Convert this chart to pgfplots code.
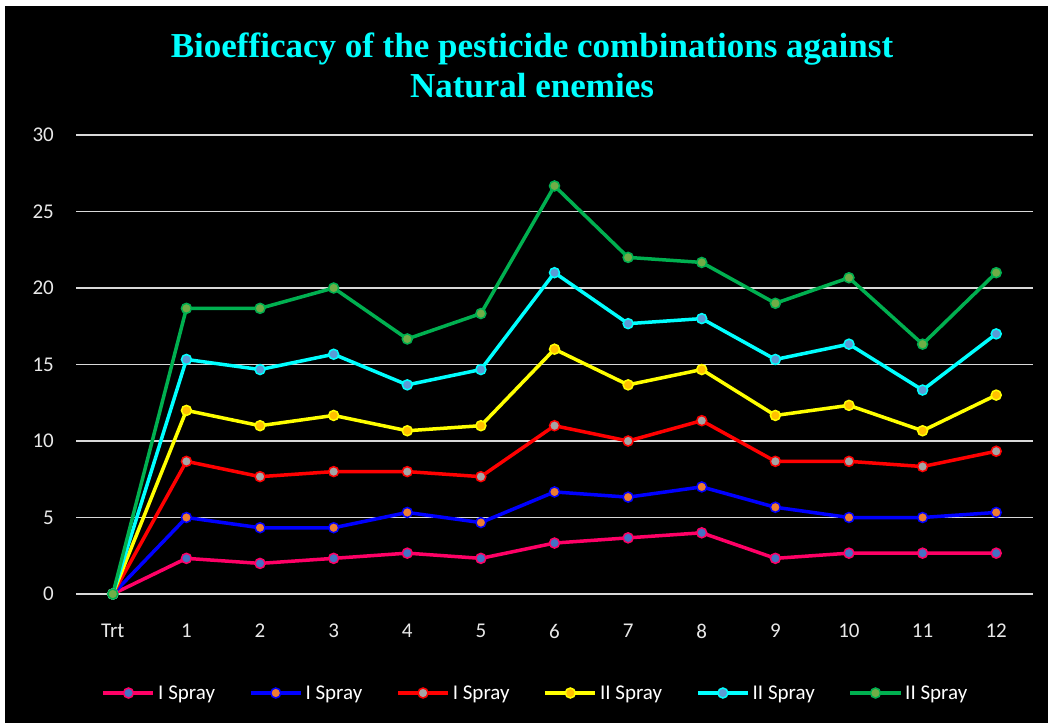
\documentclass[border=0pt]{standalone}
\usepackage{fontspec}
\setmainfont{Carlito}
\newfontfamily\titlefont{Liberation Serif}
\usepackage{pgfplots}
\pgfplotsset{compat=1.18}
\definecolor{cpink}{HTML}{FF0066}
\definecolor{cblue}{HTML}{0000FF}
\definecolor{cred}{HTML}{FF0000}
\definecolor{cyel}{HTML}{FFFF00}
\definecolor{ccyan}{HTML}{00FFFF}
\definecolor{cgreen}{HTML}{00B050}
\definecolor{fpink}{HTML}{4472C4}
\definecolor{fblue}{HTML}{ED7D31}
\definecolor{fred}{HTML}{A5A5A5}
\definecolor{fyel}{HTML}{FFC000}
\definecolor{fcyan}{HTML}{5B9BD5}
\definecolor{fgreen}{HTML}{70AD47}
\definecolor{gridgray}{HTML}{D9D9D9}
\definecolor{labgray}{HTML}{E8E8E8}
\begin{document}
\begin{tikzpicture}
\fill[white] (0,0) rectangle (1048pt,723pt);
\fill[black] (5pt,0) rectangle (1048pt,717pt);
\node[text=ccyan, font=\titlefont\bfseries\fontsize{35}{40}\selectfont, align=center] at (532pt,658pt) {Bioefficacy of the pesticide combinations against\\Natural enemies};
\begin{axis}[
  at={(76pt,129pt)}, anchor=south west,
  scale only axis, width=957pt, height=459pt,
  xmin=-0.5, xmax=12.5, ymin=0, ymax=30,
  ytick={0,5,...,30},
  xtick={0,...,12},
  xticklabels={Trt,1,2,3,4,5,6,7,8,9,10,11,12},
  axis line style={draw=none},
  tick style={draw=none},
  ymajorgrids,
  grid style={color=gridgray, line width=1.5pt},
  clip=false,
  /pgf/number format/assume math mode=true,
  ticklabel style={font=\fontsize{21}{25}\selectfont, text=labgray},
  yticklabel style={inner sep=0pt, xshift=-22pt},
  xticklabel style={inner sep=0pt, yshift=-30pt},
  legend columns=6,
  legend style={at={(0.4807,-0.2157)}, anchor=center, draw=none, fill=none,
    text=white, font=\fontsize{21}{25}\selectfont,
    /tikz/every even column/.append style={column sep=31pt},
    nodes={inner sep=3pt}},
  legend image code/.code={\draw[mark repeat=2,mark phase=2,#1] plot coordinates {(0pt,0pt) (25pt,0pt) (50pt,0pt)};},
  every axis plot/.append style={line width=3.5pt, mark=*, mark size=5pt},
]
\addplot[cpink, mark options={fill=fpink, draw=cpink, line width=1.5pt}] coordinates {
(0,0) (1,2.33) (2,2.0) (3,2.33) (4,2.67) (5,2.33) (6,3.33) (7,3.67) (8,4.0) (9,2.33) (10,2.67) (11,2.67) (12,2.67)};
\addlegendentry{I Spray}
\addplot[cblue, mark options={fill=fblue, draw=cblue, line width=1.5pt}] coordinates {
(0,0) (1,5.0) (2,4.33) (3,4.33) (4,5.33) (5,4.67) (6,6.67) (7,6.33) (8,7.0) (9,5.67) (10,5.0) (11,5.0) (12,5.33)};
\addlegendentry{I Spray}
\addplot[cred, mark options={fill=fred, draw=cred, line width=1.5pt}] coordinates {
(0,0) (1,8.67) (2,7.67) (3,8.0) (4,8.0) (5,7.67) (6,11.0) (7,10.0) (8,11.33) (9,8.67) (10,8.67) (11,8.33) (12,9.33)};
\addlegendentry{I Spray}
\addplot[cyel, mark options={fill=fyel, draw=cyel, line width=1.5pt}] coordinates {
(0,0) (1,12.0) (2,11.0) (3,11.67) (4,10.67) (5,11.0) (6,16.0) (7,13.67) (8,14.67) (9,11.67) (10,12.33) (11,10.67) (12,13.0)};
\addlegendentry{II Spray}
\addplot[ccyan, mark options={fill=fcyan, draw=ccyan, line width=1.5pt}] coordinates {
(0,0) (1,15.33) (2,14.67) (3,15.67) (4,13.67) (5,14.67) (6,21.0) (7,17.67) (8,18.0) (9,15.33) (10,16.33) (11,13.33) (12,17.0)};
\addlegendentry{II Spray}
\addplot[cgreen, mark options={fill=fgreen, draw=cgreen, line width=1.5pt}] coordinates {
(0,0) (1,18.67) (2,18.67) (3,20.0) (4,16.67) (5,18.33) (6,26.67) (7,22.0) (8,21.67) (9,19.0) (10,20.67) (11,16.33) (12,21.0)};
\addlegendentry{II Spray}
\end{axis}
\end{tikzpicture}
\end{document}
